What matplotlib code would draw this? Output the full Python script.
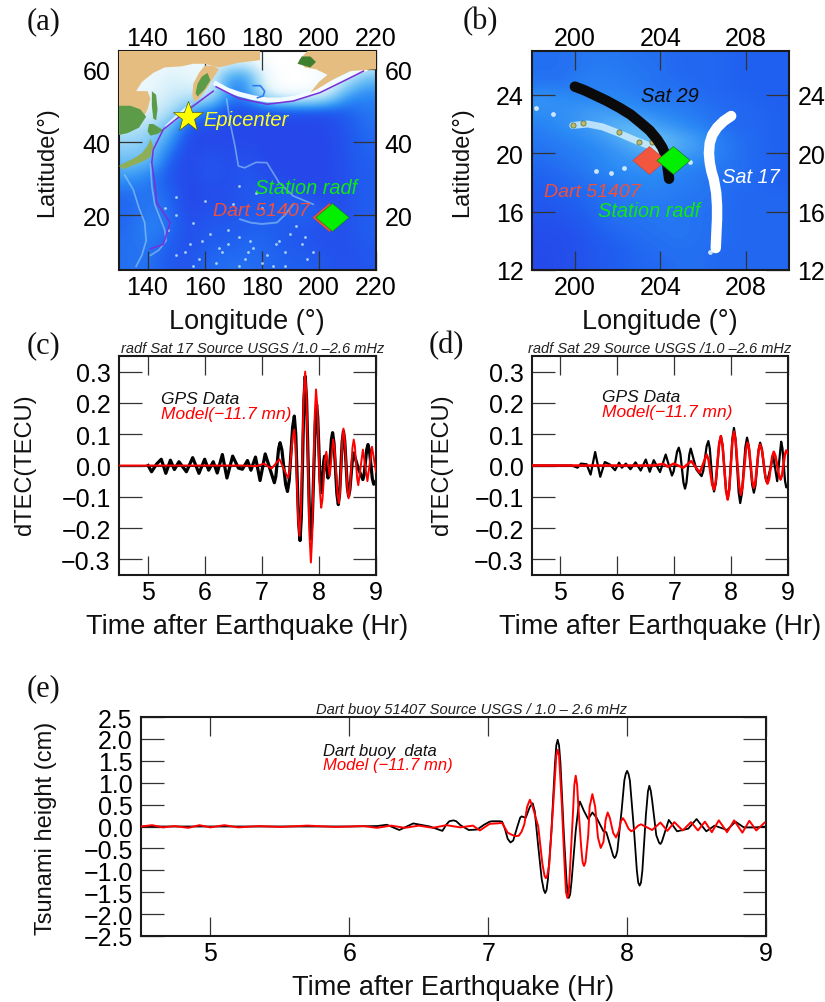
import numpy as np
import matplotlib
matplotlib.use("Agg")
import matplotlib.pyplot as plt
from matplotlib.colors import LinearSegmentedColormap
from matplotlib.patches import Polygon
from matplotlib.path import Path
from matplotlib.transforms import ScaledTranslation

plt.rcParams['font.family'] = ['Liberation Sans', 'DejaVu Sans']

W, H = 825, 1003

# ---------- waveform data ----------
c_gps_t = [5.01,5.07,5.16,5.24,5.32,5.40,5.47,5.55,5.68,5.79,5.90,6.00,6.07,6.15,6.22,6.31,6.39,6.49,6.59,6.66,6.75,6.81,6.89,6.97,7.06,7.22,7.245,7.295,7.32,7.3525,7.4175,7.45,7.48,7.54,7.57,7.595,7.645,7.67,7.6925,7.7375,7.76,7.785,7.835,7.86,7.885,7.935,7.96,7.98,8.02,8.04,8.055,8.085,8.10,8.16,8.18,8.22,8.24,8.265,8.315,8.34,8.3625,8.4075,8.43,8.4525,8.4975,8.52,8.5425,8.5875,8.61,8.69,8.77,8.7925,8.8375,8.86,8.885,8.935,8.96,9.0]
c_gps_v = [0.0,-.02,.005,.02,-.025,.017,-.013,.012,-.02,.025,-.025,.02,-.015,.012,-.024,.035,-.04,.03,-.008,-.012,.016,-.015,.027,-.048,.037,-.055,-.036,.054,.073,.05,-.06,-.083,-.048,.123,.158,.100,-.182,-.24,-.164,.209,.285,.209,-.159,-.235,-.169,.129,.195,.154,-.046,-.087,-.07,.013,.03,-.04,-.019,.084,.105,.071,-.091,-.125,-.091,.076,.11,.080,-.068,-.098,-.078,.020,.04,-.01,-.045,-.029,.051,.067,.048,-.041,-.06,-.05]
c_mod_t = [4.5,5.0,5.5,6.0,6.64,6.91,7.04,7.17,7.31,7.46,7.4875,7.5425,7.57,7.5925,7.6375,7.66,7.685,7.735,7.76,7.785,7.835,7.86,7.8825,7.9275,7.95,7.9725,8.0175,8.04,8.0625,8.1075,8.13,8.19,8.25,8.275,8.325,8.35,8.37,8.41,8.43,8.4525,8.4975,8.52,8.5425,8.5875,8.61,8.63,8.67,8.69,8.77,8.85,8.93,9.0]
c_mod_v = [0.0,0.0,0.0,0.0,0.0,-.002,.006,-.01,.02,-.04,-.017,.092,.115,.065,-.175,-.225,-.148,.223,.30,.211,-.221,-.31,-.229,.162,.243,.188,-.080,-.135,-.109,.018,.044,-.034,.083,.053,-.090,-.12,-.085,.083,.118,.085,-.072,-.105,-.078,.056,.083,.062,-.042,-.063,.051,-.05,.06,-.02]

d_gps_t = [4.5,5.20,5.30,5.36,5.46,5.53,5.61,5.70,5.78,5.87,5.96,6.03,6.08,6.15,6.23,6.32,6.41,6.50,6.57,6.64,6.75,6.85,6.96,6.99,7.05,7.08,7.1075,7.1625,7.19,7.215,7.265,7.29,7.39,7.48,7.51,7.57,7.60,7.625,7.675,7.70,7.73,7.79,7.82,7.85,7.91,7.94,7.9675,8.0225,8.05,8.0775,8.1325,8.16,8.19,8.25,8.28,8.31,8.37,8.40,8.4275,8.4825,8.51,8.54,8.60,8.63,8.74,8.81,8.88,8.9025,8.9475,8.97,9.0]
d_gps_v = [0.0,0.0,-.007,.006,.004,-.029,.043,-.036,.011,.003,-.015,.009,-.007,.006,-.012,.01,-.016,.019,-.02,.017,-.021,.035,-.032,-.019,.044,.057,.038,-.055,-.074,-.055,.035,.054,-.013,-.034,-.018,.062,.078,.055,-.060,-.083,-.058,.069,.094,.064,-.077,-.107,-.074,.087,.12,.085,-.085,-.12,-.089,.058,.089,.063,-.061,-.087,-.064,.050,.073,.054,-.036,-.055,.03,-.05,.076,.055,-.049,-.07,-.065]
d_mod_t = [4.5,5.5,6.2,6.63,6.81,6.89,6.99,7.16,7.30,7.45,7.57,7.6025,7.6675,7.70,7.73,7.79,7.82,7.85,7.91,7.94,7.9675,8.0225,8.05,8.08,8.14,8.17,8.20,8.26,8.29,8.3175,8.3725,8.40,8.4275,8.4825,8.51,8.5425,8.6075,8.64,8.6675,8.7225,8.75,8.78,8.84,8.87,8.895,8.945,8.97,9.0]
d_mod_v = [0.0,0.0,0.0,0.0,.005,-.004,.006,-.007,.014,-.023,.035,.019,-.061,-.077,-.052,.069,.094,.065,-.080,-.109,-.078,.077,.108,.078,-.063,-.093,-.069,.049,.073,.052,-.050,-.071,-.051,.047,.067,.049,-.04,-.058,-.043,.029,.044,.030,-.031,-.045,-.031,.034,.048,.04]

e_buoy_t = [4.5,5.5,6.0,6.2,6.27,6.36,6.46,6.58,6.67,6.7,6.72,6.75,6.77,6.8,6.86,6.92,6.97,7.01,7.03,7.08,7.10,7.12,7.14,7.16,7.18,7.21,7.23,7.24,7.27,7.30,7.32,7.335,7.36,7.385,7.40,7.41,7.42,7.43,7.455,7.48,7.49,7.50,7.51,7.52,7.545,7.565,7.575,7.58,7.59,7.60,7.63,7.65,7.66,7.69,7.72,7.75,7.78,7.83,7.85,7.88,7.90,7.91,7.92,7.93,7.96,7.98,7.99,8.00,8.01,8.02,8.05,8.07,8.08,8.09,8.10,8.11,8.135,8.15,8.16,8.17,8.18,8.21,8.23,8.24,8.25,8.30,8.36,8.44,8.50,8.57,8.63,8.72,8.78,8.84,8.93,9.0]
e_buoy_v = [0.0,0.0,0.0,.01,.04,-.08,.07,0.0,-.1,.05,.12,.14,.12,.03,-.08,-.07,.04,.11,.12,.12,.11,-.05,-.28,-.365,-.32,0.0,.2,.23,.2,.45,.53,.35,-.45,-1.2,-1.45,-1.52,-1.45,-1.2,-.1,1.4,1.85,1.98,1.85,1.45,-.2,-1.3,-1.58,-1.63,-1.55,-1.25,-.1,.45,.57,.35,.17,.32,.2,-.11,-.13,-.45,-.67,-.72,-.67,-.55,.35,1.05,1.2,1.27,1.2,1.05,-.1,-1.0,-1.28,-1.35,-1.28,-1.0,.25,.8,.93,.82,.6,-.2,-.37,-.4,-.35,.15,-.11,-.05,.17,-.11,.02,-.08,.11,-.02,-.02,0.0]
e_mod_t = [4.5,4.58,4.66,4.74,4.84,4.92,5.0,5.1,5.2,5.35,5.5,5.7,5.9,6.1,6.2,6.3,6.4,6.5,6.6,6.7,6.8,6.89,6.94,7.01,7.10,7.14,7.17,7.2,7.22,7.24,7.26,7.28,7.30,7.32,7.36,7.39,7.405,7.415,7.425,7.44,7.47,7.49,7.50,7.51,7.53,7.55,7.56,7.57,7.58,7.59,7.61,7.62,7.63,7.64,7.65,7.67,7.68,7.69,7.70,7.72,7.73,7.75,7.77,7.79,7.81,7.83,7.845,7.86,7.875,7.90,7.92,7.94,7.955,7.97,7.985,8.01,8.03,8.05,8.08,8.10,8.18,8.24,8.29,8.34,8.40,8.46,8.51,8.56,8.61,8.66,8.72,8.77,8.83,8.88,8.93,8.99]
e_mod_v = [0.0,.03,-.02,.01,-.03,.03,-.02,.03,-.02,.01,-.01,.02,-.01,.01,-.03,.02,-.03,.02,-.03,.03,-.02,.02,-.09,.06,.08,-.14,-.19,-.22,-.21,-.12,.05,.45,.61,.45,.0,-.85,-1.12,-1.18,-1.12,-.85,.6,1.62,1.75,1.62,.5,-.9,-1.5,-1.63,-1.5,-.9,.3,.95,1.16,.95,.4,-.5,-.82,-.9,-.82,-.2,.45,.74,.45,-.25,-.49,-.35,.15,.32,.2,-.15,-.25,-.1,.12,.19,.12,-.05,-.11,-.07,.02,.05,-.08,.09,-.1,.1,-.09,.1,-.09,.11,-.13,.14,-.13,.14,-.14,.13,-.09,.09]

# ---------- tick labels ----------
a_lon_ticks = [140, 160, 180, 200, 220]
a_lat_ticks = [20, 40, 60]
b_lon_ticks = [200, 204, 208]
b_lat_ticks = [12, 16, 20, 24]
tec_ticks = [-0.3, -0.2, -0.1, 0.0, 0.1, 0.2, 0.3]
tec_labels = ['\u22120.3', '\u22120.2', '\u22120.1', '0.0', '0.1', '0.2', '0.3']
hr_ticks = [5, 6, 7, 8, 9]
e_ticks = [-2.5,-2,-1.5,-1,-.5,0,.5,1,1.5,2,2.5]
e_labels = ['\u22122.5','\u22122.0','\u22121.5','\u22121.0','\u22120.5','0.0','0.5','1.0','1.5','2.0','2.5']

# ---------- map (a) ----------
a_depth = np.array([
 [.90,.90,.90,.90,.90,.90,.90,1.0,1.0,1.0,.90,.90,.90],
 [.90,.90,.80,.85,.90,.35,.30,.95,1.0,1.0,.95,.80,.50],
 [.90,.85,.80,.75,.85,.32,.32,.85,1.0,1.0,.85,.38,.30],
 [.90,.85,.70,.45,.24,.16,.14,.14,.14,.14,.14,.20,.26],
 [.70,.65,.50,.15,.13,.12,.12,.12,.12,.12,.13,.17,.24],
 [.60,.55,.34,.11,.13,.12,.13,.11,.10,.10,.12,.16,.22],
 [.50,.50,.20,.11,.18,.14,.16,.12,.10,.10,.12,.16,.20],
 [.35,.26,.18,.11,.18,.14,.18,.14,.12,.10,.12,.15,.20],
 [.22,.27,.22,.11,.14,.14,.18,.18,.20,.14,.12,.15,.20],
 [.22,.27,.25,.12,.16,.16,.18,.20,.20,.24,.16,.15,.20],
 [.22,.30,.25,.14,.18,.18,.20,.20,.18,.16,.15,.15,.20],
 [.24,.27,.20,.14,.20,.20,.22,.22,.18,.17,.15,.15,.18],
 [.24,.25,.18,.16,.22,.24,.24,.22,.20,.20,.17,.15,.17],
])
asia_lon = [130,179.4,179.4,172,165,160,156,152,146,142,138,136,140,141,140,138,134,130]
asia_lat = [65,65,62.5,61.8,60.5,61.5,61.5,60.8,60.5,59,56.5,54,54,52,49,46,43,42]
kamch_lon = [163,165,162.5,161,158,156.3,155.7,156,158,160]
kamch_lat = [61,60,57,55,52,51,53,56,59,61]
kgreen_lon = [161,162,160,157.5,156.8,157.5,159]
kgreen_lat = [59,57,54.5,52.5,53.5,56,58]
asia2_lon = [130,134,137.5,139.5,137,133,130]
asia2_lat = [50,50,49,47,44,42.5,42]
sakh_lon = [141.5,143,143.5,143,142,141.5]
sakh_lat = [54,53,49,46,46.5,50]
hokk_lon = [140.5,142,145.5,143.5,141,140]
hokk_lat = [45,45,43.3,42.3,41.8,43]
hons_lon = [141,142,141,139,136,131.5,130,131,135,138,140]
hons_lat = [41,39,36,35,34,32.6,33.5,34,35.5,37,39]
alaska_lon = [196,193,195,199,203,200,197,199.3,205,211,220,220]
alaska_lat = [65,62.5,60.5,60,58.5,56.5,53.6,54.5,57.2,59.5,60,65]
agreen_lon = [192.5,197,199,197,194]
agreen_lat = [61.5,60.5,62,63.5,63.5]
kuril_lon = [156,153,150,146.5,146,150,153]
kuril_lat = [51,48.5,46,44,44.5,47.5,49.5]
arc_lon = [164,168,172,177,182,187,192,197,202,207,212,216]
arc_lat = [56,54.3,53.2,52.2,51.6,51.6,52.2,53.5,55.2,57.2,59,60]
hook_lon = [177,179.5,181,180.5,178.5]
hook_lat = [55.5,55.5,54,52.7,52.2]
aleut_t_lon = [164,172,181.8,191,200.4,209.8,215.6]
aleut_t_lat = [55.2,52,50.4,51.3,53.6,57.2,59.5]
jap_t_lon = [163,153.7,145.5,142,141.5,142.6,143.2,147.9,145.5,141]
jap_t_lat = [54,48.6,43.5,38,34.4,28,23.4,18,12,10.8]
ridge1_lon = [141,141.5,142.5,144,146,146.5,144,141]
ridge1_lat = [34,28,23,20,16,13,10.5,9]
ridge2_lon = [132,135,137,139,139.5,138,136]
ridge2_lat = [31,27,22,18,13,9,6]
emperor_lon = [167.7,169,170.6,171.8,174,178,181.8,186,191,198]
emperor_lat = [51.8,45,39,33.5,33,34.5,34.4,29,25.3,23]
chain2_lon = [172.4,176,180,185.3,188,191]
chain2_lat = [18.9,18,17.6,18,20,23]
sea_lon = [146,150,156,162,168,172,176,150,160,170,180,155,165,175,185,190,195,150,158,166,174,182,188,156,164,172,180,188,196,172,178,186,192,198,147,153,159,168,177,184,194]
sea_lat = [22,20,18,15,16,14,13,25,24,23,22,12,11,10,12,15,14,9,8,10,8,9,10,6,7,6,7,6,8,28,26,13,17,10,16,10,13,12,11,6,12]

# ---------- map (b) ----------
b_depth = np.array([
 [.24,.24,.26,.26,.26,.24,.24,.22,.22,.22,.20,.20,.20],
 [.24,.24,.26,.28,.26,.26,.24,.22,.22,.22,.20,.20,.20],
 [.26,.26,.28,.28,.28,.26,.24,.24,.22,.22,.20,.20,.20],
 [.34,.32,.30,.30,.30,.28,.26,.26,.24,.22,.22,.20,.20],
 [.32,.32,.36,.38,.34,.32,.30,.28,.26,.24,.22,.22,.20],
 [.28,.32,.34,.40,.48,.44,.36,.32,.28,.24,.22,.22,.20],
 [.26,.28,.30,.34,.40,.50,.50,.42,.36,.28,.24,.22,.20],
 [.24,.26,.28,.30,.34,.38,.42,.38,.34,.28,.24,.22,.20],
 [.22,.24,.26,.30,.32,.32,.32,.30,.28,.26,.24,.22,.20],
 [.20,.22,.24,.26,.28,.30,.30,.28,.26,.24,.24,.22,.20],
 [.18,.20,.22,.24,.26,.28,.28,.26,.26,.24,.22,.22,.22],
 [.17,.18,.20,.24,.26,.26,.26,.26,.24,.24,.22,.22,.22],
 [.15,.16,.18,.22,.24,.24,.26,.26,.24,.24,.22,.22,.22],
 [.14,.14,.16,.20,.22,.24,.24,.26,.24,.24,.22,.22,.22],
 [.13,.14,.16,.18,.20,.22,.24,.24,.24,.22,.22,.22,.22],
 [.13,.14,.16,.18,.20,.22,.22,.24,.24,.22,.22,.22,.22],
])
sat29_lon = [200.0,200.45,200.9,201.5,202.1,202.6,203.06,203.5,203.84,204.08,204.23,204.3,204.34,204.38,204.4]
sat29_lat = [24.56,24.31,24.0,23.58,23.1,22.65,22.1,21.55,20.95,20.4,19.9,19.4,18.9,18.5,18.25]
sat17_lon = [207.3,206.95,206.64,206.42,206.3,206.26,206.3,206.38,206.49,206.6,206.64,206.64,206.61,206.58]
sat17_lat = [22.55,22.2,21.75,21.25,20.7,20.0,19.35,18.75,18.2,17.3,16.4,15.5,14.55,13.5]
haw_shelf_lon = [199.9,200.6,201.3,202.0,202.8,203.5,203.9]
haw_shelf_lat = [21.9,22.0,21.8,21.4,20.9,20.5,20.2]
haw_white_lon = [198.2,199.0,201.7,201.0,202.3,206.3,205.4]
haw_white_lat = [23.1,22.7,18.67,18.8,19.0,13.2,19.4]
isl_lon = [199.9,200.4,202.05,203.0,203.6,204.0]
isl_lat = [21.95,22.05,21.45,20.8,20.8,20.6]

# ---------- markers ----------
epic_lon, epic_lat = 154.3, 47.0
radf_a = (204.5, 19.5)
dart_a = (203.5, 19.5)
radf_b = (204.57, 19.56)
dart_b = (203.45, 19.53)

bathy = LinearSegmentedColormap.from_list('bathy', [
    (0.00, '#2a46e6'), (0.12, '#2648ea'), (0.20, '#2060f0'), (0.30, '#2a88f5'),
    (0.45, '#5cb6f5'), (0.65, '#a8dcf7'), (0.85, '#e6f6fc'), (1.00, '#ffffff')])
diamond = Path([(-1, 0), (0, .84), (1, 0), (0, -.84), (-1, 0)], closed=True)
TAN, GREEN = '#e6bd80', '#5c9c48'
TICK_FS, XL_FS, YL_FS = 18, 19.5, 17


def make_axes(l, t, r, b):
    return fig.add_axes([l / W, 1 - b / H, (r - l) / W, (b - t) / H])


def style(ax, xt, yt, top=True, right=True):
    ax.set_xticks(xt)
    ax.set_yticks(yt)
    ax.tick_params(axis='x', which='both', direction='in', length=13.5, width=.9, color='#333333',
                   top=True, bottom=True, labeltop=top, labelsize=TICK_FS, pad=3.5)
    ax.tick_params(axis='y', which='both', direction='in', length=16.5, width=.9, color='#333333',
                   left=True, right=True, labelright=right, labelsize=TICK_FS, pad=6)
    for s in ax.spines.values():
        s.set_linewidth(1.5)
        s.set_color('#1a1a1a')
    if top:
        shift = ScaledTranslation(0, -3 / 72, fig.dpi_scale_trans)
        for tick in ax.xaxis.get_major_ticks():
            tick.label2.set_transform(tick.label2.get_transform() + shift)


def place_labels(ax, xlabel, ylabel, xc, xy, yx, yc):
    inv = ax.transAxes.inverted()
    ax.set_xlabel(xlabel, fontsize=XL_FS, color='#111111')
    ax.set_ylabel(ylabel, fontsize=YL_FS, color='#111111')
    px = inv.transform((xc, H - xy))
    py = inv.transform((yx, H - yc))
    ax.xaxis.set_label_coords(px[0], px[1])
    ax.yaxis.set_label_coords(py[0], py[1])
    ax.xaxis.label.set_va('center')
    ax.yaxis.label.set_va('center')


fig = plt.figure(figsize=(W / 100, H / 100), dpi=100, facecolor='white')

# ---------- panel a ----------
axa = make_axes(119, 52, 376, 271)
axa.imshow(a_depth, extent=[130, 220, 5, 65], origin='upper', aspect='auto', cmap=bathy,
           vmin=0, vmax=1, interpolation='bicubic')
for lo, la in [(ridge1_lon, ridge1_lat), (ridge2_lon, ridge2_lat)]:
    axa.plot(lo, la, color='#9ad2f7', lw=1.2, alpha=.6, zorder=2)
axa.plot(emperor_lon, emperor_lat, color='#a8dcf8', lw=1.2, alpha=.55, zorder=2)
axa.plot(chain2_lon, chain2_lat, color='#a8dcf8', lw=1.4, alpha=.5, zorder=2)
axa.scatter(sea_lon, sea_lat, s=4, color='#cdeefa', alpha=.8, lw=0, zorder=2)
axa.plot(arc_lon, arc_lat, color='#f2fbff', lw=3.5, zorder=2)
axa.plot(hook_lon, hook_lat, color='#2f7cf2', lw=1.2, zorder=2)
for lo, la, col in [(asia_lon, asia_lat, TAN), (kamch_lon, kamch_lat, TAN), (kgreen_lon, kgreen_lat, GREEN),
                    (asia2_lon, asia2_lat, GREEN), (sakh_lon, sakh_lat, GREEN),
                    (hokk_lon, hokk_lat, GREEN), (hons_lon, hons_lat, '#8fae58'),
                    (alaska_lon, alaska_lat, TAN), (agreen_lon, agreen_lat, '#3f7f30'),
                    (kuril_lon, kuril_lat, '#d8f0fa')]:
    axa.add_patch(Polygon(np.column_stack([lo, la]), closed=True, fc=col, ec='none', zorder=3))
axa.plot(aleut_t_lon, aleut_t_lat, color='#7a30d8', lw=1.1, zorder=4)
axa.plot(jap_t_lon, jap_t_lat, color='#7a30d8', lw=1.1, zorder=4)
axa.plot([epic_lon], [epic_lat], marker='*', ms=23, mfc='#ffff00', mec='#444400', mew=.4, zorder=6)
axa.plot([dart_a[0]], [dart_a[1]], marker=diamond, ms=24, mfc='#f2563f', mec='#d04030', mew=.4, zorder=6)
axa.plot([radf_a[0]], [radf_a[1]], marker=diamond, ms=24, mfc='#00f000', mec='#226622', mew=.4, zorder=7)
axa.text(159.6, 46.3, 'Epicenter', color='#ffff20', style='italic', fontsize=14.5, va='center', zorder=7)
axa.text(195.5, 27.6, 'Station radf', color='#10e810', style='italic', fontsize=14.4, va='center', ha='center', zorder=7)
axa.text(180, 21.2, 'Dart 51407', color='#f0503c', style='italic', fontsize=14, va='center', ha='center', zorder=7)
axa.set_xlim(130, 220)
axa.set_ylim(5, 65)
style(axa, a_lon_ticks, a_lat_ticks)
place_labels(axa, 'Longitude (\u00b0)', 'Latitude(\u00b0)', 247, 322, 47, 162)

# ---------- panel b ----------
axb = make_axes(532, 52, 789, 271)
axb.imshow(b_depth, extent=[198, 210, 12, 27], origin='upper', aspect='auto', cmap=bathy,
           vmin=0, vmax=1, interpolation='bicubic')
axb.plot(haw_shelf_lon, haw_shelf_lat, color='#d8f2fc', lw=5, alpha=.8, solid_capstyle='round', zorder=2)
axb.scatter(haw_white_lon, haw_white_lat, s=12, color='#e8f8ff', alpha=.85, lw=0, zorder=2)
axb.scatter(isl_lon, isl_lat, s=14, color='#c9b46a', edgecolors='#3f7a3a', linewidths=.5, zorder=3)
axb.plot(sat29_lon, sat29_lat, color='#0a0a0a', lw=7.5, solid_capstyle='round', solid_joinstyle='round', zorder=4)
axb.plot(sat17_lon, sat17_lat, color='white', lw=7.5, solid_capstyle='round', solid_joinstyle='round', zorder=4)
axb.plot([dart_b[0]], [dart_b[1]], marker=diamond, ms=24, mfc='#f2563f', mec='#d04030', mew=.4, zorder=6)
axb.plot([radf_b[0]], [radf_b[1]], marker=diamond, ms=24, mfc='#00f000', mec='#226622', mew=.4, zorder=7)
axb.text(204.43, 23.96, 'Sat 29', color='#0a0a0a', style='italic', fontsize=14.4, va='center', ha='center', zorder=7)
axb.text(208.23, 18.37, 'Sat 17', color='white', style='italic', fontsize=14.4, va='center', ha='center', zorder=7)
axb.text(200.8, 17.37, 'Dart 51407', color='#f0503c', style='italic', fontsize=14, va='center', ha='center', zorder=7)
axb.text(203.45, 16.09, 'Station radf', color='#10e810', style='italic', fontsize=14.4, va='center', ha='center', zorder=7)
axb.set_xlim(198, 210)
axb.set_ylim(12, 27)
style(axb, b_lon_ticks, b_lat_ticks)
place_labels(axb, 'Longitude (\u00b0)', 'Latitude(\u00b0)', 660, 322, 462, 162)


# ---------- panels c, d ----------
def tec_panel(box, gt, gv, mt, mv, title, title_x, gy, my, left, lw_g, lw_m, lab_x, xc):
    ax = make_axes(*box)
    ax.axhline(0, color='#222222', lw=.8, zorder=1)
    ax.plot(gt, gv, color='#000000', lw=lw_g, zorder=2, solid_joinstyle='round')
    ax.plot(mt, mv, color='#ff0000', lw=lw_m, zorder=3, solid_joinstyle='round')
    ax.set_xlim(4.5, 9)
    ax.set_ylim(-.35, .35)
    style(ax, hr_ticks, tec_ticks, top=False, right=False)
    ax.set_yticklabels(tec_labels)
    ax.text(left, gy, 'GPS Data', color='#111111', style='italic', fontsize=12.5, va='center')
    ax.text(left, my, 'Model(\u221211.7 mn)', color='#ff0000', style='italic', fontsize=12.5, va='center')
    fig.text(title_x / W, 1 - 349 / H, title, style='italic', fontsize=10.5, ha='center', va='center', color='#222222')
    place_labels(ax, 'Time after Earthquake (Hr)', 'dTEC(TECU)', xc, 627, lab_x, 465)
    return ax


tec_panel((119, 357, 376, 576), c_gps_t, c_gps_v, c_mod_t, c_mod_v,
          'radf Sat 17 Source USGS /1.0 \u20132.6 mHz', 253, .215, .165, 5.23, 2.3, 1.4, 25, 247)
tec_panel((532, 357, 788, 576), d_gps_t, d_gps_v, d_mod_t, d_mod_v,
          'radf Sat 29 Source USGS /1.0 \u20132.6 mHz', 660, .222, .172, 5.725, 1.6, 1.8, 442, 660)

# ---------- panel e ----------
axe = make_axes(141, 718, 766, 937)
axe.plot(e_buoy_t, e_buoy_v, color='#000000', lw=1.3, zorder=2, solid_joinstyle='round')
axe.plot(e_mod_t, e_mod_v, color='#ff0000', lw=1.4, zorder=3, solid_joinstyle='round')
axe.set_xlim(4.5, 9)
axe.set_ylim(-2.5, 2.5)
style(axe, hr_ticks, e_ticks, top=False, right=False)
axe.set_yticklabels(e_labels)
axe.text(5.81, 1.73, 'Dart buoy  data', color='#111111', style='italic', fontsize=12, va='center')
axe.text(5.81, 1.41, 'Model (\u221211.7 mn)', color='#ff0000', style='italic', fontsize=12, va='center')
fig.text(472 / W, 1 - 710 / H, 'Dart buoy 51407 Source USGS / 1.0 \u2013 2.6 mHz', style='italic', fontsize=10.6,
         ha='center', va='center', color='#222222')
place_labels(axe, 'Time after Earthquake (Hr)', 'Tsunami height (cm)', 453, 988, 46, 828)

# ---------- panel letters ----------
for txt, x, y in [('(a)', 44, 22), ('(b)', 480, 22), ('(c)', 44, 346), ('(d)', 446, 346), ('(e)', 44, 689)]:
    fig.text(x / W, 1 - y / H, txt, family='Liberation Serif', fontsize=22, ha='center', va='center', color='#111111')

fig.savefig('out.png', dpi=100, facecolor='white')
